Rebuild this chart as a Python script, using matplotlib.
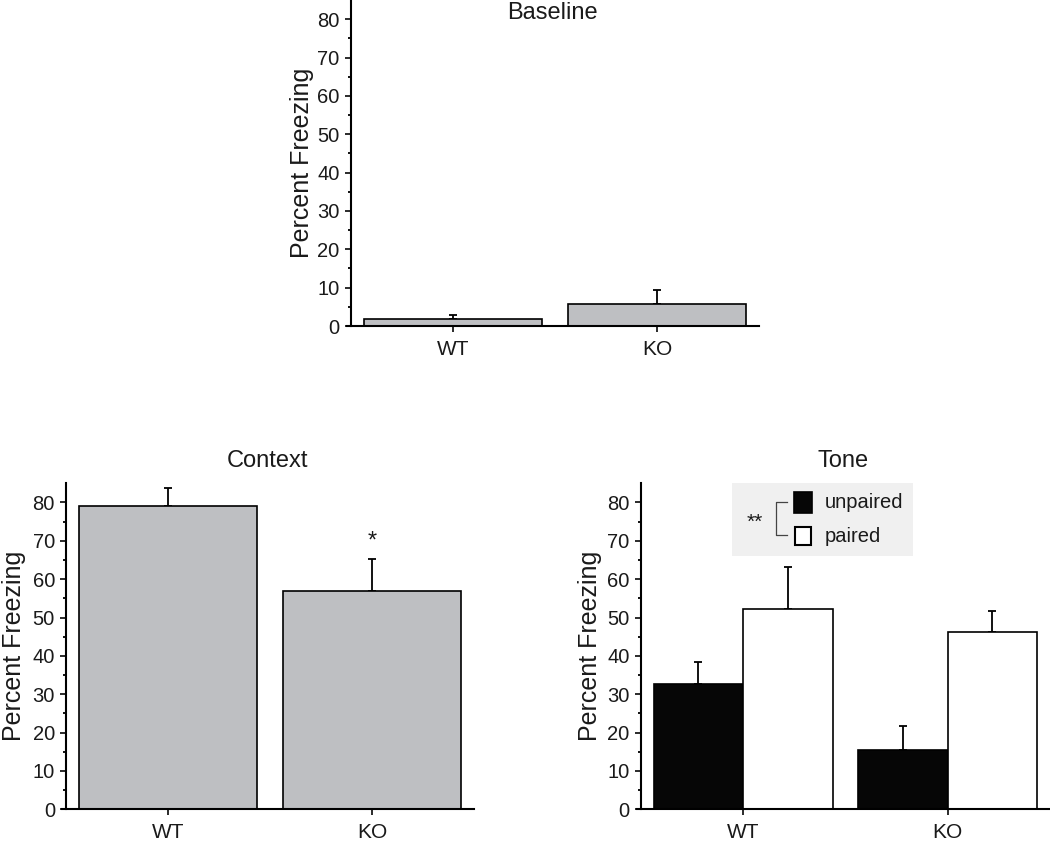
import matplotlib
matplotlib.use("Agg")
import matplotlib.pyplot as plt
from matplotlib.patches import Rectangle
from matplotlib.lines import Line2D
import numpy as np

plt.rcParams["font.family"] = ["Liberation Sans", "DejaVu Sans"]

groups = ["WT", "KO"]
baseline_mean = [1.7, 5.7]
baseline_sem = [1.2, 3.7]
context_mean = [79.1, 56.9]
context_sem = [4.6, 8.4]
unpaired_mean = [32.7, 15.5]
unpaired_sem = [5.8, 6.2]
paired_mean = [52.1, 46.3]
paired_sem = [11.1, 5.4]

W, H = 1050, 842
TXT = "#1a1a1a"
GRAY = "#bebfc2"


def fig_px(x, y):
    return x / W, 1 - y / H


def style_axes(ax, label_x):
    ax.set_ylim(0, 85)
    ax.set_xlim(-0.52, 1.5)
    ax.spines["left"].set_position(("data", -0.5))
    ax.spines["top"].set_visible(False)
    ax.spines["right"].set_visible(False)
    for s in ("left", "bottom"):
        ax.spines[s].set_linewidth(1.5)
    ax.set_yticks(np.arange(0, 81, 10))
    ax.set_yticks(np.arange(0, 85, 5), minor=True)
    ax.tick_params(axis="y", which="major", length=4, width=1.3, labelsize=14.5, pad=4, colors=TXT)
    ax.tick_params(axis="y", which="minor", length=2, width=1.3)
    ax.set_xticks(range(len(groups)))
    ax.set_xticklabels(groups)
    ax.tick_params(axis="x", which="major", direction="inout", length=8, width=1.3,
                   labelsize=15, pad=6, colors=TXT)
    ax.set_ylabel("Percent Freezing", fontsize=18, color=TXT)
    ax.yaxis.set_label_coords(label_x, 0.5)


def err(ax, x, mean, sem):
    ax.errorbar(x, mean, yerr=[np.zeros(len(sem)), sem], fmt="none", ecolor="black",
                elinewidth=1.3, capsize=2.8, capthick=1.3, zorder=1)


fig = plt.figure(figsize=(W / 100, H / 100), dpi=100)

# Baseline
ax1 = fig.add_axes([346.7 / W, 1 - 326 / H, (759 - 346.7) / W, 326 / H])
x = np.arange(len(groups))
ax1.bar(x, baseline_mean, width=0.87, color=GRAY, edgecolor="black", linewidth=1.2, zorder=2)
err(ax1, x, baseline_mean, baseline_sem)
style_axes(ax1, -33 / 412)
ax1.text(0.5, 1 - 13 / 326, "Baseline", transform=ax1.transAxes, ha="center", va="center",
         fontsize=17, color=TXT)

# Context
ax2 = fig.add_axes([62 / W, 1 - 809.3 / H, (474 - 62) / W, 326 / H])
ax2.bar(x, context_mean, width=0.87, color=GRAY, edgecolor="black", linewidth=1.2, zorder=2)
err(ax2, x, context_mean, context_sem)
style_axes(ax2, -36 / 412)
ax2.set_title("Context", fontsize=17, color=TXT, pad=12)
ax2.text(1, context_mean[1] + context_sem[1] + 4.5, "*", ha="center", va="center",
         fontsize=17, color=TXT)

# Tone
ax3 = fig.add_axes([636.7 / W, 1 - 809.3 / H, (1050 - 636.7) / W, 326 / H])
bw = 0.437
ax3.bar(x - bw / 2, unpaired_mean, width=bw, color="#060606", edgecolor="black",
        linewidth=1.2, zorder=2)
ax3.bar(x + bw / 2, paired_mean, width=bw, color="white", edgecolor="black",
        linewidth=1.2, zorder=2)
err(ax3, x - bw / 2, unpaired_mean, unpaired_sem)
err(ax3, x + bw / 2, paired_mean, paired_sem)
style_axes(ax3, -35 / 413)
ax3.set_title("Tone", fontsize=17, color=TXT, pad=12)

# legend box
x0, y0 = fig_px(732.3, 555.7)
x1, y1 = fig_px(913.3, 482.7)
fig.patches.append(Rectangle((x0, y0), x1 - x0, y1 - y0, transform=fig.transFigure,
                             facecolor="#f0f0f0", edgecolor="none", zorder=5))
sx0, sy0 = fig_px(794, 512.7)
sx1, sy1 = fig_px(812, 492.3)
fig.patches.append(Rectangle((sx0, sy0), sx1 - sx0, sy1 - sy0, transform=fig.transFigure,
                             facecolor="#060606", edgecolor="black", linewidth=1.2, zorder=6))
sx0, sy0 = fig_px(795, 545)
sx1, sy1 = fig_px(811, 527)
fig.patches.append(Rectangle((sx0, sy0), sx1 - sx0, sy1 - sy0, transform=fig.transFigure,
                             facecolor="white", edgecolor="black", linewidth=1.5, zorder=6))
tx, ty = fig_px(825, 503)
fig.text(tx, ty, "unpaired", ha="left", va="center", fontsize=14.5, color=TXT, zorder=7)
tx, ty = fig_px(825, 536)
fig.text(tx, ty, "paired", ha="left", va="center", fontsize=14.5, color=TXT, zorder=7)
tx, ty = fig_px(754.5, 522)
fig.text(tx, ty, "**", ha="center", va="center", fontsize=15, color=TXT, zorder=7)
pts = [fig_px(787.3, 501.7), fig_px(775.7, 501.7), fig_px(775.7, 535), fig_px(787.3, 535)]
fig.lines.append(Line2D([p[0] for p in pts], [p[1] for p in pts], transform=fig.transFigure,
                        color="#444444", linewidth=0.9, zorder=7))

fig.savefig("out.png", dpi=100)
